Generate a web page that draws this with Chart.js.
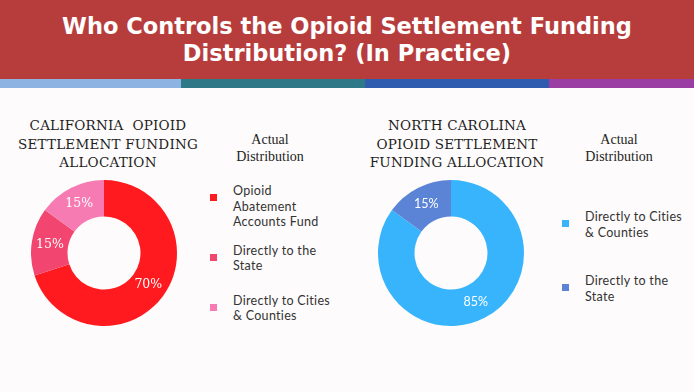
<!DOCTYPE html>
<html>
<head>
<meta charset="utf-8">
<script src="https://cdn.jsdelivr.net/npm/chart.js@4"></script>
<style>
  html, body { margin: 0; padding: 0; }
  body { width: 694px; height: 392px; background: #fdfbfb; position: relative; overflow: hidden; font-family: Lato, sans-serif; }
  .header { position: absolute; left: 0; top: 0; width: 694px; height: 79px; background: #b73d3d; }
  .hline { position: absolute; left: 0; width: 694px; line-height: 27px; color: #fff;
           font-family: "DejaVu Sans", sans-serif; font-weight: 700; font-size: 22.5px; text-align: center; }
  .stripe { position: absolute; top: 79px; height: 9px; }
  .title { position: absolute; top: 116px; width: 220px; text-align: center; font-family: "DejaVu Serif", serif;
           font-size: 13.5px; line-height: 18.5px; letter-spacing: 0.2px; color: #1e1e1e; }
  .sub { position: absolute; top: 131px; width: 120px; text-align: center; font-family: "Liberation Serif", serif;
         font-size: 14px; line-height: 17px; color: #1e1e1e; }
  .legend { position: absolute; font-size: 12.5px; line-height: 15.5px; color: #333; letter-spacing: 0.3px; }
  .item { position: relative; padding-left: 23px; }
  .item i { position: absolute; left: 0; top: 11px; width: 7px; height: 7px; }
</style>
</head>
<body>
<div class="header"></div>
<div class="hline" style="top:13px">Who Controls the Opioid Settlement Funding</div>
<div class="hline" style="top:40px">Distribution? (In Practice)</div>
<div class="stripe" style="left:0;width:181px;background:#8db3e2"></div>
<div class="stripe" style="left:181px;width:184px;background:#2e7888"></div>
<div class="stripe" style="left:365px;width:184px;background:#2f5cae"></div>
<div class="stripe" style="left:549px;width:145px;background:#9a3ea4"></div>

<div class="title" style="left:-2px">CALIFORNIA&nbsp; OPIOID<br>SETTLEMENT FUNDING<br>ALLOCATION</div>
<div class="title" style="left:347px">NORTH CAROLINA<br>OPIOID SETTLEMENT<br>FUNDING ALLOCATION</div>
<div class="sub" style="left:210px">Actual<br>Distribution</div>
<div class="sub" style="left:559px">Actual<br>Distribution</div>

<div style="position:absolute;left:31px;top:180px;width:146px;height:146px"><canvas id="caChart"></canvas></div>
<div style="position:absolute;left:378px;top:180px;width:146px;height:146px"><canvas id="ncChart"></canvas></div>

<div class="legend" id="caLegend" style="left:210px;top:183px"></div>
<div class="legend" id="ncLegend" style="left:562px;top:209px"></div>

<script>
'use strict';

// California
const caLabels = [['Opioid', 'Abatement', 'Accounts Fund'], ['Directly to the', 'State'], ['Directly to Cities', '& Counties']];
const caValues = [70, 15, 15];
const caColors = ['#ff1a1f', '#f24670', '#f77bb3'];

// North Carolina
const ncLabels = [['Directly to Cities', '& Counties'], ['Directly to the', 'State']];
const ncValues = [85, 15];
const ncColors = ['#38b4fd', '#5b84d6'];

// dibuja el porcentaje dentro de cada segmento
const etiquetasPct = {
    id: 'etiquetasPct',
    afterDatasetsDraw(chart, args, opts) {
        const ctx = chart.ctx;
        const meta = chart.getDatasetMeta(0);
        ctx.save();
        ctx.fillStyle = '#fff';
        ctx.font = opts.font;
        ctx.textAlign = 'center';
        ctx.textBaseline = 'middle';
        meta.data.forEach((arc, i) => {
            const p = arc.tooltipPosition();
            ctx.fillText(chart.data.datasets[0].data[i] + '%', p.x, p.y);
        });
        ctx.restore();
    }
};

function crearDona(id, labels, values, colors, font) {
    const ctx = document.getElementById(id).getContext('2d');
    return new Chart(ctx, {
        type: 'doughnut',
        data: {
            labels: labels,
            datasets: [{ data: values, backgroundColor: colors, borderWidth: 0 }]
        },
        options: {
            responsive: true,
            maintainAspectRatio: false,
            animation: false,
            cutout: '50%',
            plugins: {
                legend: { display: false },
                tooltip: { enabled: false },
                etiquetasPct: { font: font }
            }
        },
        plugins: [etiquetasPct]
    });
}

function crearLeyenda(id, labels, colors, gaps) {
    const el = document.getElementById(id);
    labels.forEach((lineas, i) => {
        const item = document.createElement('div');
        item.className = 'item';
        item.style.marginTop = i === 0 ? '0px' : gaps[i - 1] + 'px';
        item.innerHTML = `<i style="background:${colors[i]}"></i>` + lineas.join('<br>');
        el.appendChild(item);
    });
}

crearDona('caChart', caLabels, caValues, caColors, '12.5px "DejaVu Serif", serif');
crearDona('ncChart', ncLabels, ncValues, ncColors, '12.5px Lato, sans-serif');
crearLeyenda('caLegend', caLabels, caColors, [13, 19]);
crearLeyenda('ncLegend', ncLabels, ncColors, [33]);
</script>
</body>
</html>
